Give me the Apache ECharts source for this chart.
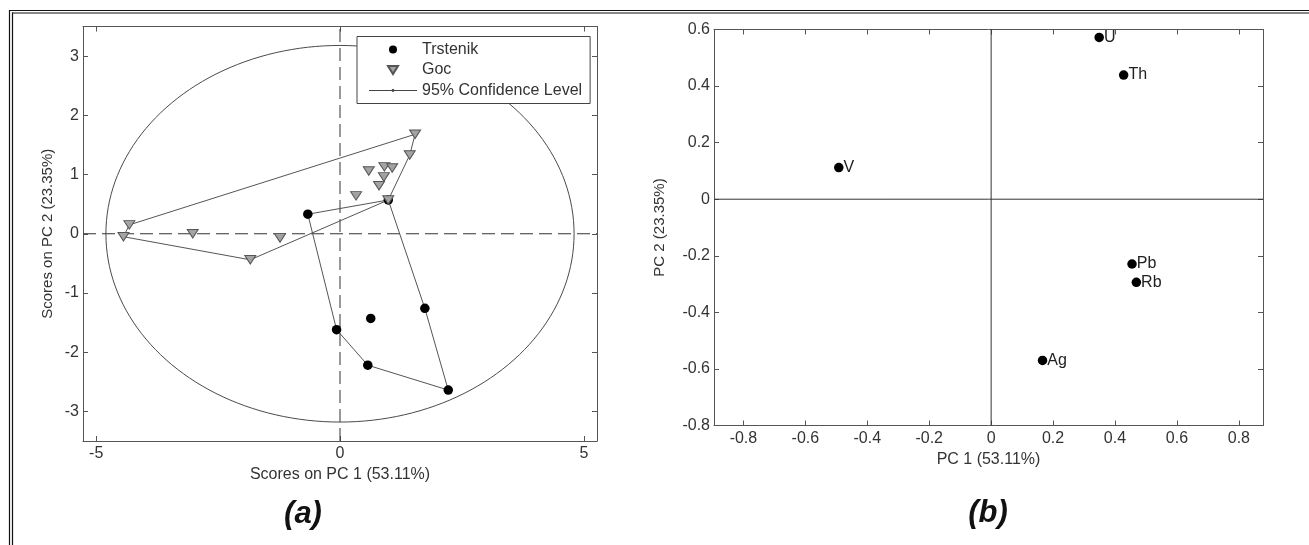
<!DOCTYPE html>
<html>
<head>
<meta charset="utf-8">
<title>PCA scores and loadings</title>
<script src="https://cdn.jsdelivr.net/npm/echarts@6/dist/echarts.min.js"></script>
<style>
  html, body { margin: 0; padding: 0; background: #fff; }
  #chart { width: 1309px; height: 545px; }
</style>
</head>
<body>
<div id="chart"></div>
<script>
// (a) scores plot
const trstenikPC1 = [-0.66, 0.99, 1.74, 2.22, 0.57, -0.07, 0.63];
const trstenikPC2 = [0.33, 0.57, -1.26, -2.64, -2.22, -1.62, -1.43];
const trstenikHull = [0, 1, 2, 3, 4, 5, 0];
const gocPC1 = [-4.32, -4.44, -3.02, -1.23, -1.84, 0.33, 0.59, 0.80, 0.90, 0.91, 1.07, 0.99, 1.43, 1.54];
const gocPC2 = [0.15, -0.05, 0.0, -0.07, -0.44, 0.64, 1.06, 0.81, 0.96, 1.13, 1.11, 0.57, 1.33, 1.68];
const gocHull = [0, 13, 12, 11, 4, 1, 0];
// 95% confidence ellipse: centre x, centre y, half width, half height
const confidenceEllipse = [0, 0, 4.8, 3.18];
const scoreXRange = [-5.27, 5.27];
const scoreYRange = [-3.5, 3.5];
const scoreXTicks = [-5, 0, 5];
const scoreYTicks = [-3, -2, -1, 0, 1, 2, 3];

// (b) loadings plot
const elements = ['U', 'Th', 'V', 'Pb', 'Rb', 'Ag'];
const loadPC1 = [0.349, 0.428, -0.492, 0.455, 0.469, 0.166];
const loadPC2 = [0.572, 0.439, 0.112, -0.229, -0.294, -0.570];
const loadXRange = [-0.895, 0.878];
const loadYRange = [-0.8, 0.6];
const loadXTicks = [-0.8, -0.6, -0.4, -0.2, 0, 0.2, 0.4, 0.6, 0.8];
const loadYTicks = [-0.8, -0.6, -0.4, -0.2, 0, 0.2, 0.4, 0.6];

const FONT = '"Liberation Sans", Arial, Helvetica, sans-serif';
const AXIS = '#555';
const TEXT = '#333';
const triDown = 'path://M0,0 L10,0 L5,8 Z';
const lineIcon = 'path://M0,4.6 L48,4.6 L48,5.4 L0,5.4 Z M22.6,5 A1.4,1.4 0 1 1 25.4,5 A1.4,1.4 0 1 1 22.6,5 Z';

function fmt(v) {
  return v === 0 ? '0' : String(+v.toFixed(1));
}

function pairs(xs, ys, order) {
  const idx = order || xs.map((_, i) => i);
  return idx.map(i => [xs[i], ys[i]]);
}

// one axis per side, so the frame and the inner ticks come on all four sides
function xAxis(grid, range, ticks, pos, name, gap) {
  const main = pos === 'bottom';
  return {
    gridIndex: grid, type: 'value', position: pos,
    min: range[0], max: range[1],
    axisLine: { onZero: false, lineStyle: { color: AXIS, width: 1 } },
    axisTick: { inside: true, length: 5, customValues: ticks, lineStyle: { color: AXIS } },
    axisLabel: {
      show: main, customValues: ticks, margin: 5, formatter: fmt,
      fontFamily: FONT, fontSize: 16, color: TEXT
    },
    splitLine: { show: false },
    name: main ? name : '', nameLocation: 'middle', nameGap: gap,
    nameTextStyle: { fontFamily: FONT, fontSize: 16, color: TEXT }
  };
}

function yAxis(grid, range, ticks, pos, name, gap) {
  const main = pos === 'left';
  return {
    gridIndex: grid, type: 'value', position: pos,
    min: range[0], max: range[1],
    axisLine: { onZero: false, lineStyle: { color: AXIS, width: 1 } },
    axisTick: { inside: true, length: 5, customValues: ticks, lineStyle: { color: AXIS } },
    axisLabel: {
      show: main, customValues: ticks, margin: 4, formatter: fmt,
      fontFamily: FONT, fontSize: 16, color: TEXT
    },
    splitLine: { show: false },
    name: main ? name : '', nameLocation: 'middle', nameGap: gap,
    nameTextStyle: { fontFamily: FONT, fontSize: 15, color: TEXT }
  };
}

function zeroLine(xi, yi, data, dashed, color) {
  return {
    type: 'line', xAxisIndex: xi, yAxisIndex: yi, data: data,
    symbol: 'none', silent: true, z: 1,
    lineStyle: { color: color, width: 1, type: dashed ? [13, 6] : 'solid' }
  };
}

const chart = echarts.init(document.getElementById('chart'), null, { renderer: 'canvas' });

const option = {
  backgroundColor: '#fff',
  animation: false,
  grid: [
    { left: 83, top: 26.5, width: 514, height: 414.5 },
    { left: 714, top: 29.5, width: 549, height: 396 }
  ],
  xAxis: [
    xAxis(0, scoreXRange, scoreXTicks, 'bottom', 'Scores on PC 1 (53.11%)', 24),
    xAxis(0, scoreXRange, scoreXTicks, 'top'),
    xAxis(1, loadXRange, loadXTicks, 'bottom', 'PC 1 (53.11%)', 26),
    xAxis(1, loadXRange, loadXTicks, 'top')
  ],
  yAxis: [
    yAxis(0, scoreYRange, scoreYTicks, 'left', 'Scores on PC 2 (23.35%)', 28),
    yAxis(0, scoreYRange, scoreYTicks, 'right'),
    yAxis(1, loadYRange, loadYTicks, 'left', 'PC 2 (23.35%)', 47),
    yAxis(1, loadYRange, loadYTicks, 'right')
  ],
  legend: {
    orient: 'vertical', left: 357, top: 36.5,
    padding: [5, 8, 5, 12],
    itemWidth: 48, itemHeight: 8, itemGap: 4.5,
    backgroundColor: '#fff', borderColor: '#444', borderWidth: 1,
    selectedMode: false,
    textStyle: { fontFamily: FONT, fontSize: 16, color: TEXT },
    data: [
      { name: 'Trstenik', icon: 'circle' },
      { name: 'Goc', icon: triDown },
      { name: '95% Confidence Level', icon: lineIcon, itemStyle: { color: '#444', borderWidth: 0 } }
    ]
  },
  graphic: [
    // double frame round the figure
    { type: 'line', shape: { x1: 9, y1: 10.5, x2: 1309, y2: 10.5 }, style: { stroke: '#111', lineWidth: 1.2 } },
    { type: 'line', shape: { x1: 12, y1: 13, x2: 1309, y2: 13 }, style: { stroke: '#111', lineWidth: 1.2 } },
    { type: 'line', shape: { x1: 9.5, y1: 10, x2: 9.5, y2: 545 }, style: { stroke: '#111', lineWidth: 1.2 } },
    { type: 'line', shape: { x1: 12.5, y1: 12.5, x2: 12.5, y2: 545 }, style: { stroke: '#111', lineWidth: 1.2 } },
    {
      type: 'text', x: 303, y: 514,
      style: {
        text: '(a)', align: 'center', verticalAlign: 'middle',
        fontFamily: '"Liberation Sans Narrow", "Arial Narrow", "Liberation Sans", sans-serif',
        fontSize: 31, fontWeight: 'bold', fontStyle: 'italic', fill: '#111'
      }
    },
    {
      type: 'text', x: 988, y: 513,
      style: {
        text: '(b)', align: 'center', verticalAlign: 'middle',
        fontFamily: '"Liberation Sans Narrow", "Arial Narrow", "Liberation Sans", sans-serif',
        fontSize: 31, fontWeight: 'bold', fontStyle: 'italic', fill: '#111'
      }
    }
  ],
  series: [
    {
      name: '95% Confidence Level', type: 'custom', coordinateSystem: 'cartesian2d',
      xAxisIndex: 0, yAxisIndex: 0, silent: true, z: 1,
      itemStyle: { color: '#444' },
      data: [confidenceEllipse],
      renderItem: function (params, api) {
        const cx = api.value(0), cy = api.value(1), a = api.value(2), b = api.value(3);
        const pts = [];
        for (let i = 0; i < 180; i++) {
          const t = i / 180 * Math.PI * 2;
          pts.push(api.coord([cx + a * Math.cos(t), cy + b * Math.sin(t)]));
        }
        return {
          type: 'polygon', shape: { points: pts },
          style: { fill: 'none', stroke: '#4a4a4a', lineWidth: 1 }
        };
      }
    },
    zeroLine(0, 0, [[scoreXRange[0], 0], [scoreXRange[1], 0]], true, '#333'),
    zeroLine(0, 0, [[0, scoreYRange[0]], [0, scoreYRange[1]]], true, '#333'),
    zeroLine(2, 2, [[loadXRange[0], 0], [loadXRange[1], 0]], false, '#333'),
    zeroLine(2, 2, [[0, loadYRange[0]], [0, loadYRange[1]]], false, '#333'),
    {
      name: 'Trstenik hull', type: 'line', xAxisIndex: 0, yAxisIndex: 0, z: 2,
      data: pairs(trstenikPC1, trstenikPC2, trstenikHull),
      symbol: 'none', silent: true, lineStyle: { color: '#555', width: 1 }
    },
    {
      name: 'Goc hull', type: 'line', xAxisIndex: 0, yAxisIndex: 0, z: 2,
      data: pairs(gocPC1, gocPC2, gocHull),
      symbol: 'none', silent: true, lineStyle: { color: '#555', width: 1 }
    },
    {
      name: 'Trstenik', type: 'scatter', xAxisIndex: 0, yAxisIndex: 0, z: 3,
      data: pairs(trstenikPC1, trstenikPC2),
      symbol: 'circle', symbolSize: 9.5,
      itemStyle: { color: '#000', opacity: 1 }
    },
    {
      name: 'Goc', type: 'scatter', xAxisIndex: 0, yAxisIndex: 0, z: 4,
      data: pairs(gocPC1, gocPC2),
      symbol: triDown, symbolSize: [11, 8.5],
      itemStyle: { color: '#a3a3a3', borderColor: '#555', borderWidth: 1, opacity: 1 }
    },
    {
      name: 'loadings', type: 'scatter', xAxisIndex: 2, yAxisIndex: 2, z: 3,
      data: elements.map((el, i) => ({ name: el, value: [loadPC1[i], loadPC2[i]] })),
      symbol: 'circle', symbolSize: 9.5,
      itemStyle: { color: '#000', opacity: 1 },
      label: {
        show: true, position: 'right', distance: 0, formatter: '{b}',
        fontFamily: FONT, fontSize: 16, color: '#222'
      }
    }
  ]
};

chart.setOption(option);
</script>
</body>
</html>
